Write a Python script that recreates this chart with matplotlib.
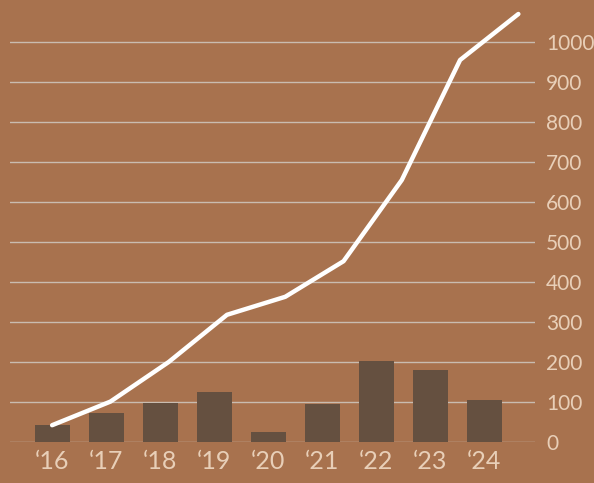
import matplotlib
matplotlib.use("Agg")
import matplotlib.pyplot as plt
import numpy as np

years = ["\u201816", "\u201817", "\u201818", "\u201819", "\u201820", "\u201821", "\u201822", "\u201823", "\u201824"]
annual = [42, 72, 97, 126, 24, 94, 203, 180, 105]
cumulative = [42, 101, 200, 318, 363, 452, 655, 955, 1070]
yticks = [0, 100, 200, 300, 400, 500, 600, 700, 800, 900, 1000]

BG = "#A8724E"
BAR = "#655040"
GRID = "#C9BCB0"
TXT = "#E8CFB8"

fig = plt.figure(figsize=(5.94, 4.83), dpi=100, facecolor=BG)
ax = fig.add_axes([10/594, 41/483, 525/594, 442/483], facecolor=BG)

x = np.arange(len(years))
ax.bar(x, annual, width=0.65, color=BAR, zorder=2)
ax.set_xlim(-0.78, 8.94)
ax.set_ylim(0, 1105)
ax.set_yticks(yticks)
ax.yaxis.tick_right()
ax.grid(axis="y", color=GRID, linewidth=1.0, zorder=0)
ax.set_axisbelow(True)
for s in ax.spines.values():
    s.set_visible(False)
ax.tick_params(axis="y", length=0, pad=8, labelsize=15, labelcolor=TXT)
ax.set_xticks(x)
ax.set_xticklabels(years)
ax.tick_params(axis="x", length=0, pad=6, labelsize=18, labelcolor=TXT)
for lab in ax.get_xticklabels() + ax.get_yticklabels():
    lab.set_fontfamily("Lato")
    lab.set_fontweight("normal")

# line drawn on its own evenly spaced x scale
ax2 = ax.twiny()
scale = 1.079
a, b = ax.get_xlim()
ax2.set_xlim(a / scale, b / scale)
ax2.set_ylim(ax.get_ylim())
ax2.plot(np.arange(len(cumulative)), cumulative, color="white", linewidth=3.2,
         solid_capstyle="round", solid_joinstyle="round", zorder=3, clip_on=False)
ax2.axis("off")

fig.savefig("out.png", dpi=100, facecolor=BG)
